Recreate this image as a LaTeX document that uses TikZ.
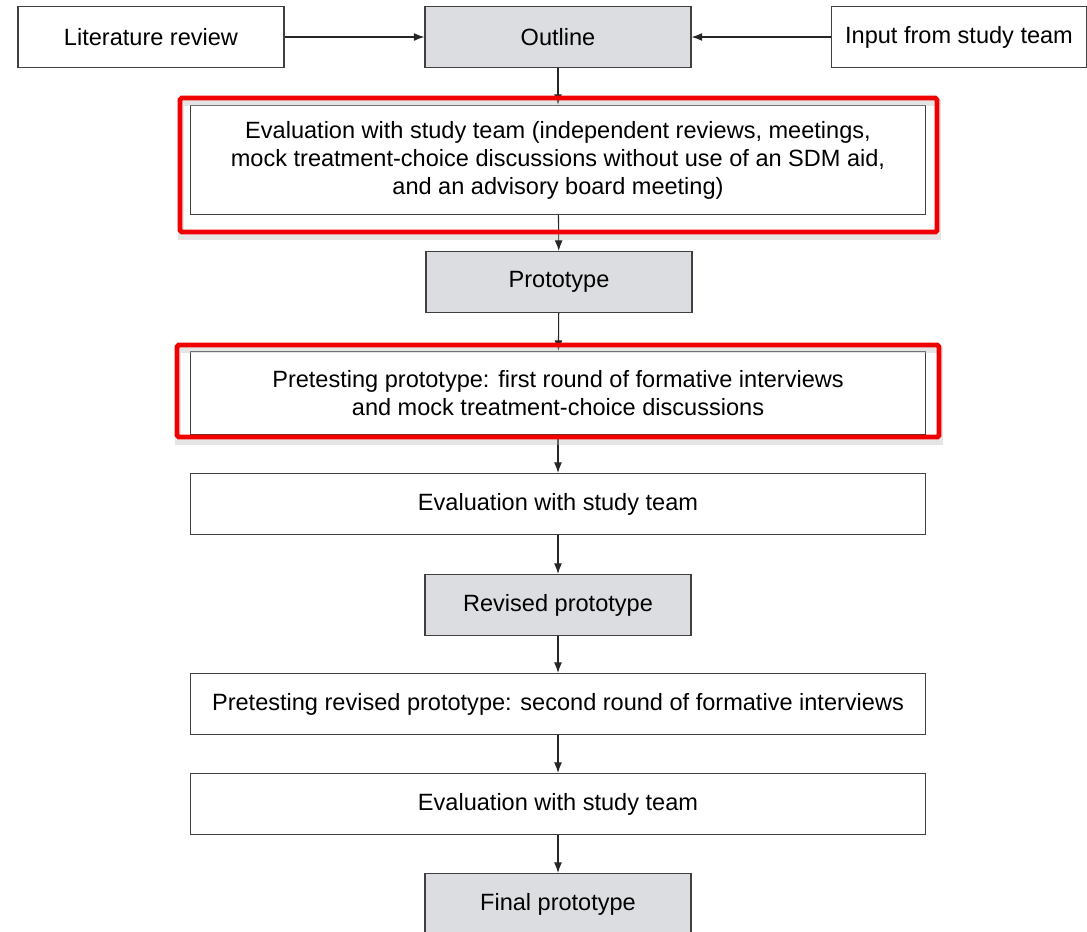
\documentclass[tikz,border=0pt]{standalone}
\usepackage{fontspec}
\setmainfont{Liberation Sans}
\usetikzlibrary{arrows.meta}
\definecolor{boxgray}{HTML}{DCDDE0}
\definecolor{hired}{HTML}{F00000}
\begin{document}
\begin{tikzpicture}[x=0.02cm, y=-0.02cm,
  box/.style={draw=black!75, line width=0.7pt, fill=white, align=center, inner sep=0pt,
    font=\fontsize{13.4}{15.9}\selectfont},
  short/.style={box, minimum width=5.32cm, minimum height=1.22cm},
  grey/.style={short, fill=boxgray},
  wide/.style={box, minimum width=14.7cm, minimum height=1.22cm},
  flow/.style={-{Latex[length=6pt,width=4.5pt]}, black!85, line width=0.6pt},
  hilite/.style={draw=hired, line width=2.8pt, rounded corners=1pt},
  hishadow/.style={draw=black!25, line width=3pt, opacity=0.4}]
  \useasboundingbox (0,0) rectangle (1087,931);

  \node[short] (lit) at (151,37) {Literature review};
  \node[grey] (outline) at (558,37) {Outline};
  \node[short, minimum width=5.1cm] (input) at (959,37) {Input from study team};
  \node[wide, minimum height=2.18cm] (eval1) at (558,160) {Evaluation with study team (independent reviews, meetings,\\mock treatment-choice discussions without use of an SDM aid,\\and an advisory board meeting)};
  \node[grey] (proto) at (559,282) {Prototype};
  \node[wide, minimum height=1.66cm] (pretest) at (558,393) {Pretesting prototype: first round of formative interviews\\and mock treatment-choice discussions};
  \node[wide] (eval2) at (558,504) {Evaluation with study team};
  \node[grey] (revised) at (558,605) {Revised prototype};
  \node[wide] (pretest2) at (558,704) {Pretesting revised prototype: second round of formative interviews};
  \node[wide] (eval3) at (558,804) {Evaluation with study team};
  \node[grey] (final) at (558,904) {Final prototype};

  \draw[flow] (lit) -- (outline);
  \draw[flow] (input) -- (outline);
  \draw[flow] (outline) -- (eval1);
  \draw[flow] (eval1) -- (proto);
  \draw[flow] (proto) -- (pretest);
  \draw[flow] (pretest) -- (eval2);
  \draw[flow] (eval2) -- (revised);
  \draw[flow] (revised) -- (pretest2);
  \draw[flow] (pretest2) -- (eval3);
  \draw[flow] (eval3) -- (final);

  % red highlights
  \draw[hishadow] (181,103) rectangle (938,237);
  \draw[hilite] (180,98) rectangle (937,232);
  \draw[hishadow] (178,350) rectangle (940,442);
  \draw[hilite] (177,345) rectangle (939,437);
\end{tikzpicture}
\end{document}
